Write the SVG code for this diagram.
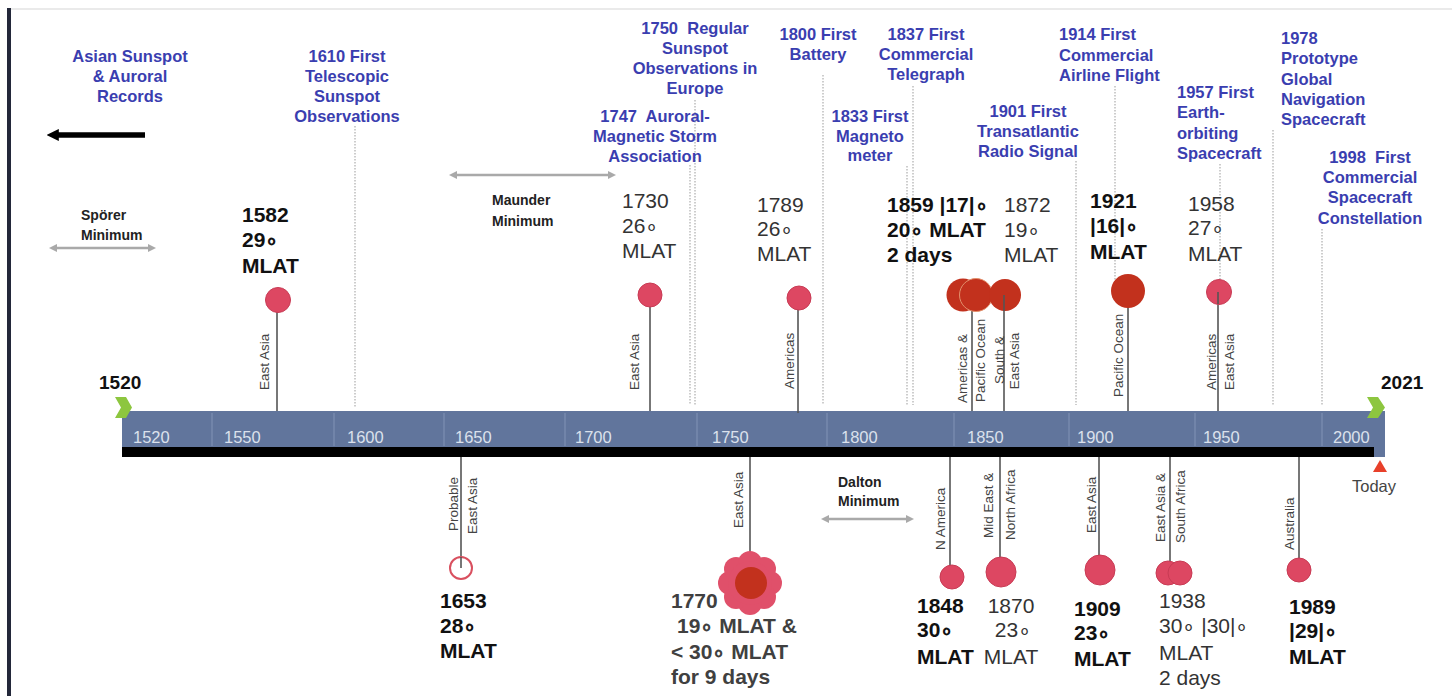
<svg xmlns="http://www.w3.org/2000/svg" width="1452" height="696" viewBox="0 0 1452 696">
<defs>
<style>
.bl{font-family:"Liberation Sans",Arial,sans-serif;font-weight:bold;font-size:16.5px;fill:#3a3eb0;text-anchor:middle}
.bll{font-family:"Liberation Sans",Arial,sans-serif;font-weight:bold;font-size:16.5px;fill:#3a3eb0}
.ev{font-family:"Liberation Sans",Arial,sans-serif;font-weight:bold;font-size:21px;fill:#111}
.evg{font-family:"Liberation Sans",Arial,sans-serif;font-size:21px;fill:#333}
.evb{font-family:"Liberation Sans",Arial,sans-serif;font-weight:bold;font-size:21px;fill:#404040}
.rot{font-family:"Liberation Sans",Arial,sans-serif;font-size:13.5px;fill:#444}
.yr{font-family:"Liberation Sans",Arial,sans-serif;font-size:16.5px;fill:#dbe1ec}
.mn{font-family:"Liberation Sans",Arial,sans-serif;font-weight:bold;font-size:14px;fill:#222}
.big{font-family:"Liberation Sans",Arial,sans-serif;font-weight:bold;font-size:19px;fill:#111}
.stem{stroke:#555;stroke-width:1.6}
.dot{stroke:#bdbdbd;stroke-width:1.5;stroke-dasharray:1.5 1.5}
.pink{fill:#dd4762;stroke:#c83b54;stroke-width:1}
.dark{fill:#c2311d}
.garr{stroke:#a9a9a9;stroke-width:2.5;marker-start:url(#ga);marker-end:url(#ga)}
.sep{stroke:#8294b6;stroke-width:1}
</style>
<marker id="ga" viewBox="0 0 10 10" refX="5" refY="5" markerWidth="3.2" markerHeight="3.2" orient="auto-start-reverse"><path d="M0,0 L10,5 L0,10 z" fill="#a9a9a9"/></marker>
<marker id="ba" viewBox="0 0 10 10" refX="4" refY="5" markerWidth="2.2" markerHeight="2.2" orient="auto-start-reverse"><path d="M0,0 L10,5 L0,10 z" fill="#000"/></marker>
</defs>
<rect width="1452" height="696" fill="#fff"/>
<line x1="10" y1="9" x2="1452" y2="9" stroke="#e3e3e3" stroke-width="1.5"/>
<rect x="7" y="8" width="4" height="688" fill="#23283a"/>

<g id="axis">
<rect x="122" y="411" width="1263" height="46" fill="#61759c"/>
<rect x="122" y="447" width="1252" height="10" fill="#000"/>
<g class="sep">
<line x1="212" y1="413" x2="212" y2="446"/><line x1="334" y1="413" x2="334" y2="446"/><line x1="444" y1="413" x2="444" y2="446"/><line x1="565" y1="413" x2="565" y2="446"/><line x1="697" y1="413" x2="697" y2="446"/><line x1="827" y1="413" x2="827" y2="446"/><line x1="954" y1="413" x2="954" y2="446"/><line x1="1069" y1="413" x2="1069" y2="446"/><line x1="1195" y1="413" x2="1195" y2="446"/><line x1="1322" y1="413" x2="1322" y2="446"/>
</g>
<text class="yr" x="133" y="443">1520</text><text class="yr" x="224" y="443">1550</text><text class="yr" x="347" y="443">1600</text><text class="yr" x="455" y="443">1650</text><text class="yr" x="575" y="443">1700</text><text class="yr" x="712" y="443">1750</text><text class="yr" x="841" y="443">1800</text><text class="yr" x="967" y="443">1850</text><text class="yr" x="1077" y="443">1900</text><text class="yr" x="1203" y="443">1950</text><text class="yr" x="1333" y="443">2000</text>
<polygon points="115,397 126,397 132,407.5 126,418 115,418 121,407.5" fill="#8dc63f"/>
<polygon points="1367,397 1378,397 1385,407.5 1378,418 1367,418 1373,407.5" fill="#8dc63f"/>
<text class="big" x="99" y="389">1520</text>
<text class="big" x="1381" y="389">2021</text>
<polygon points="1380,460 1387,472 1373,472" fill="#e8402a"/>
<text x="1352" y="492" font-family="Liberation Sans, Arial, sans-serif" font-size="16.5" fill="#444">Today</text>
</g>

<g id="connectors">
<line class="dot" x1="355" y1="126" x2="355" y2="408"/>
<line class="dot" x1="690" y1="165" x2="690" y2="405"/>
<line class="dot" x1="695" y1="100" x2="695" y2="405"/>
<line class="dot" x1="823" y1="75" x2="823" y2="405"/>
<line class="dot" x1="907" y1="166" x2="907" y2="405"/>
<line class="dot" x1="913" y1="86" x2="913" y2="405"/>
<line class="dot" x1="1076" y1="161" x2="1076" y2="405"/>
<line class="dot" x1="1115" y1="86" x2="1115" y2="300"/>
<line class="dot" x1="1220" y1="164" x2="1220" y2="300"/>
<line class="dot" x1="1273" y1="130" x2="1273" y2="405"/>
<line class="dot" x1="1322" y1="229" x2="1322" y2="405"/>
<line class="stem" x1="277" y1="300" x2="277" y2="411"/>
<line class="stem" x1="650" y1="295" x2="650" y2="411"/>
<line class="stem" x1="798" y1="298" x2="798" y2="413"/>
<line class="stem" x1="972" y1="295" x2="972" y2="411"/>
<line class="stem" x1="1004" y1="295" x2="1004" y2="411"/>
<line class="stem" x1="1128" y1="291" x2="1128" y2="411"/>
<line class="stem" x1="1218" y1="292" x2="1218" y2="411"/>
<line class="stem" x1="461" y1="457" x2="461" y2="568"/>
<line class="stem" x1="750" y1="457" x2="750" y2="583"/>
<line class="stem" x1="950" y1="457" x2="950" y2="577"/>
<line class="stem" x1="1000" y1="457" x2="1000" y2="572"/>
<line class="stem" x1="1099" y1="457" x2="1099" y2="570"/>
<line class="stem" x1="1170" y1="457" x2="1170" y2="573"/>
<line class="stem" x1="1299" y1="457" x2="1299" y2="570"/>
<line x1="145" y1="135" x2="54" y2="135" stroke="#000" stroke-width="5.5" marker-end="url(#ba)"/>
<line class="garr" x1="53" y1="248" x2="152" y2="248"/>
<line class="garr" x1="453" y1="175" x2="612" y2="175"/>
<line class="garr" x1="825" y1="519" x2="910" y2="519"/>
</g>

<g id="minima">
<text class="mn" x="81" y="220">Spörer</text><text class="mn" x="81" y="240">Minimum</text>
<text class="mn" x="492" y="205">Maunder</text><text class="mn" x="492" y="226">Minimum</text>
<text class="mn" x="838" y="487">Dalton</text><text class="mn" x="838" y="506">Minimum</text>
</g>

<g id="milestones">
<text class="bl" x="130"><tspan x="130" y="62">Asian Sunspot</tspan><tspan x="130" y="82">&amp; Auroral</tspan><tspan x="130" y="102">Records</tspan></text>
<text class="bl"><tspan x="347" y="62">1610 First</tspan><tspan x="347" y="82">Telescopic</tspan><tspan x="347" y="102">Sunspot</tspan><tspan x="347" y="122">Observations</tspan></text>
<text class="bl"><tspan x="695" y="34">1750&#160; Regular</tspan><tspan x="695" y="54">Sunspot</tspan><tspan x="695" y="74">Observations in</tspan><tspan x="695" y="94">Europe</tspan></text>
<text class="bl"><tspan x="655" y="122">1747&#160; Auroral-</tspan><tspan x="655" y="142">Magnetic Storm</tspan><tspan x="655" y="162">Association</tspan></text>
<text class="bl"><tspan x="818" y="40">1800 First</tspan><tspan x="818" y="60">Battery</tspan></text>
<text class="bl"><tspan x="870" y="122">1833 First</tspan><tspan x="870" y="142">Magneto</tspan><tspan x="870" y="161">meter</tspan></text>
<text class="bl"><tspan x="926" y="40">1837 First</tspan><tspan x="926" y="60">Commercial</tspan><tspan x="926" y="80">Telegraph</tspan></text>
<text class="bl"><tspan x="1028" y="117">1901 First</tspan><tspan x="1028" y="137">Transatlantic</tspan><tspan x="1028" y="157">Radio Signal</tspan></text>
<text class="bll"><tspan x="1059" y="40">1914 First</tspan><tspan x="1059" y="61">Commercial</tspan><tspan x="1059" y="81">Airline Flight</tspan></text>
<text class="bll"><tspan x="1177" y="98">1957 First</tspan><tspan x="1177" y="118">Earth-</tspan><tspan x="1177" y="139">orbiting</tspan><tspan x="1177" y="159">Spacecraft</tspan></text>
<text class="bll"><tspan x="1281" y="44">1978</tspan><tspan x="1281" y="64">Prototype</tspan><tspan x="1281" y="85">Global</tspan><tspan x="1281" y="105">Navigation</tspan><tspan x="1281" y="125">Spacecraft</tspan></text>
<text class="bl"><tspan x="1370" y="163">1998&#160; First</tspan><tspan x="1370" y="183">Commercial</tspan><tspan x="1370" y="203">Spacecraft</tspan><tspan x="1370" y="224">Constellation</tspan></text>
</g>

<g id="storm-1582">
<circle class="pink" cx="278" cy="300" r="12.5"/>
<text class="rot" transform="translate(269,390) rotate(-90)">East Asia</text>
<text class="ev"><tspan x="242" y="222">1582</tspan><tspan x="242" y="247">29∘</tspan><tspan x="242" y="273">MLAT</tspan></text>
</g>
<g id="storm-1653">
<circle cx="461" cy="568" r="11" fill="#fff" stroke="#d9505f" stroke-width="2"/>
<line class="stem" x1="461" y1="557" x2="461" y2="568"/>
<text class="rot" transform="translate(458,531) rotate(-90)">Probable</text>
<text class="rot" transform="translate(477,534) rotate(-90)">East Asia</text>
<text class="ev"><tspan x="440" y="608">1653</tspan><tspan x="440" y="633">28∘</tspan><tspan x="440" y="658">MLAT</tspan></text>
</g>
<g id="storm-1730">
<circle class="pink" cx="650" cy="295" r="12"/>
<text class="rot" transform="translate(639,390) rotate(-90)">East Asia</text>
<text class="evg"><tspan x="622" y="208">1730</tspan><tspan x="622" y="233">26∘</tspan><tspan x="622" y="258">MLAT</tspan></text>
</g>
<g id="storm-1770">
<g fill="#e0506a">
<circle cx="770" cy="583" r="12"/><circle cx="764" cy="597" r="12"/><circle cx="750" cy="603" r="12"/><circle cx="736" cy="597" r="12"/><circle cx="730" cy="583" r="12"/><circle cx="736" cy="569" r="12"/><circle cx="750" cy="563" r="12"/><circle cx="764" cy="569" r="12"/><circle cx="750" cy="583" r="22"/>
</g>
<circle class="dark" cx="751" cy="583" r="16"/>
<text class="rot" transform="translate(743,528) rotate(-90)">East Asia</text>
<text class="evb"><tspan x="671" y="608">1770</tspan><tspan x="677" y="633">19∘ MLAT &amp;</tspan><tspan x="671" y="659">&lt; 30∘ MLAT</tspan><tspan x="671" y="684">for 9 days</tspan></text>
</g>
<g id="storm-1789">
<circle class="pink" cx="799" cy="298" r="12"/>
<text class="rot" transform="translate(794,389) rotate(-90)">Americas</text>
<text class="evg"><tspan x="757" y="212">1789</tspan><tspan x="757" y="236">26∘</tspan><tspan x="757" y="261">MLAT</tspan></text>
</g>
<g id="storm-1848">
<circle class="pink" cx="952" cy="577" r="12"/>
<text class="rot" transform="translate(945,550) rotate(-90)">N America</text>
<text class="ev"><tspan x="917" y="613">1848</tspan><tspan x="917" y="637">30∘</tspan><tspan x="917" y="664">MLAT</tspan></text>
</g>
<g id="storm-1859">
<circle class="dark" cx="963" cy="295" r="16.5"/>
<circle class="dark" cx="976" cy="295" r="16.5" stroke="#e2906c" stroke-width="1"/>
<text class="rot" transform="translate(967,403) rotate(-90)">Americas &amp;</text>
<text class="rot" transform="translate(985,402) rotate(-90)">Pacific Ocean</text>
<text class="ev"><tspan x="887" y="212">1859 |17|∘</tspan><tspan x="887" y="237">20∘ MLAT</tspan><tspan x="887" y="262">2 days</tspan></text>
</g>
<g id="storm-1870">
<circle class="pink" cx="1001" cy="572" r="15"/>
<text class="rot" transform="translate(993,538) rotate(-90)">Mid East &amp;</text>
<text class="rot" transform="translate(1015,540) rotate(-90)">North Africa</text>
<text class="evg" text-anchor="middle"><tspan x="1011" y="613">1870</tspan><tspan x="1013" y="637">23∘</tspan><tspan x="1011" y="664">MLAT</tspan></text>
</g>
<g id="storm-1872">
<circle class="dark" cx="1005" cy="295" r="16"/>
<line class="stem" x1="1004" y1="295" x2="1004" y2="311"/>
<text class="rot" text-anchor="middle" transform="translate(1004,360) rotate(-90)">South &amp;</text>
<text class="rot" text-anchor="middle" transform="translate(1019,361) rotate(-90)">East Asia</text>
<text class="evg"><tspan x="1004" y="212">1872</tspan><tspan x="1004" y="237">19∘</tspan><tspan x="1004" y="262">MLAT</tspan></text>
</g>
<g id="storm-1909">
<circle class="pink" cx="1100" cy="570" r="15"/>
<text class="rot" transform="translate(1096,533) rotate(-90)">East Asia</text>
<text class="ev"><tspan x="1074" y="616">1909</tspan><tspan x="1074" y="640">23∘</tspan><tspan x="1074" y="666">MLAT</tspan></text>
</g>
<g id="storm-1921">
<circle class="dark" cx="1128" cy="291" r="17"/>
<text class="rot" transform="translate(1123,397) rotate(-90)">Pacific Ocean</text>
<text class="ev"><tspan x="1090" y="208">1921</tspan><tspan x="1090" y="233">|16|∘</tspan><tspan x="1090" y="259">MLAT</tspan></text>
</g>
<g id="storm-1938">
<circle class="pink" cx="1168" cy="573" r="12"/>
<circle class="pink" cx="1180" cy="573" r="12" stroke="#f1a0aa"/>
<text class="rot" transform="translate(1165,542) rotate(-90)">East Asia &amp;</text>
<text class="rot" transform="translate(1185,543) rotate(-90)">South Africa</text>
<text class="evg"><tspan x="1159" y="608">1938</tspan><tspan x="1159" y="633">30∘ |30|∘</tspan><tspan x="1159" y="660">MLAT</tspan><tspan x="1159" y="685">2 days</tspan></text>
</g>
<g id="storm-1958">
<circle class="pink" cx="1219" cy="292" r="12.5"/>
<line class="stem" x1="1218" y1="292" x2="1218" y2="304"/>
<text class="rot" transform="translate(1216,390) rotate(-90)">Americas</text>
<text class="rot" transform="translate(1234,390) rotate(-90)">East Asia</text>
<text class="evg"><tspan x="1188" y="211">1958</tspan><tspan x="1188" y="235">27∘</tspan><tspan x="1188" y="261">MLAT</tspan></text>
</g>
<g id="storm-1989">
<circle class="pink" cx="1299" cy="570" r="12"/>
<text class="rot" transform="translate(1294,550) rotate(-90)">Australia</text>
<text class="ev"><tspan x="1289" y="614">1989</tspan><tspan x="1289" y="638">|29|∘</tspan><tspan x="1289" y="664">MLAT</tspan></text>
</g>
</svg>
